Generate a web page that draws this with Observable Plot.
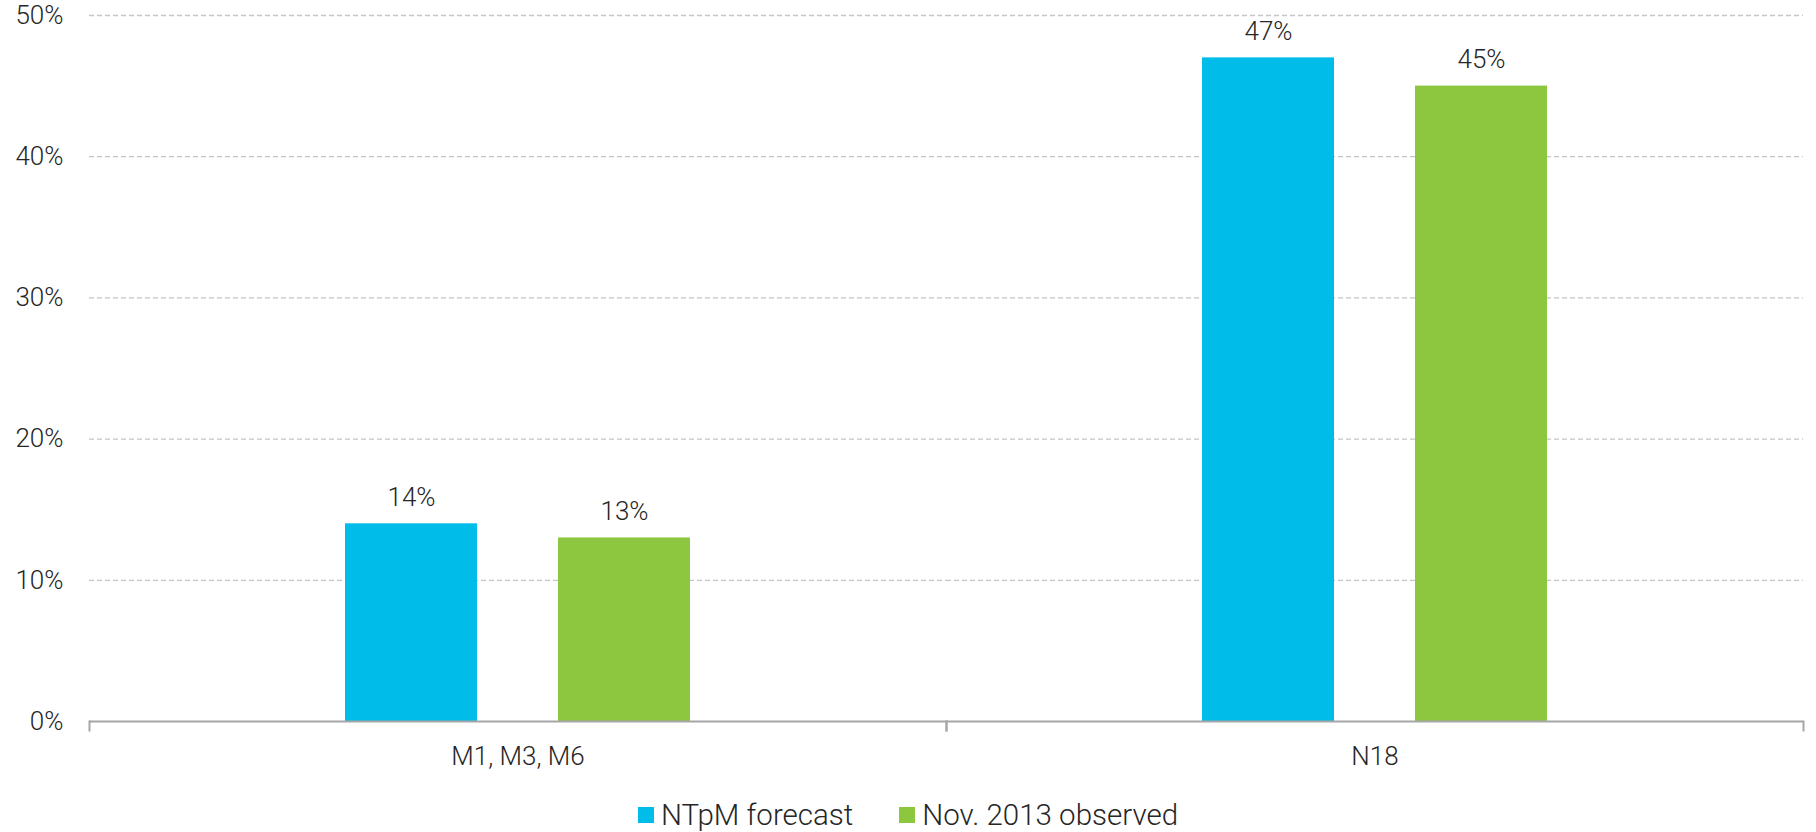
<!DOCTYPE html>
<html>
<head>
<meta charset="utf-8">
<script src="https://cdn.jsdelivr.net/npm/d3@7"></script>
<script src="https://cdn.jsdelivr.net/npm/@observablehq/plot@0.6"></script>
<style>
  html, body { margin: 0; padding: 0; background: #fff; }
  body { width: 1816px; height: 832px; overflow: hidden; font-family: Roboto, "Noto Sans", sans-serif; }
  #legend { display: flex; justify-content: center; align-items: center; height: 34px; padding-top: 10px; font-size: 29.5px; font-weight: 300; color: #262626; }
  .item { display: flex; align-items: center; margin: 0 23px; }
  .sw { width: 16px; height: 16px; margin-right: 7px; }
  svg text { font-weight: 300; }
</style>
</head>
<body>
<div id="chart"></div>
<div id="legend"></div>
<script>
const categories = ["M1, M3, M6", "N18"];
const seriesNames = ["NTpM forecast", "Nov. 2013 observed"];
const forecastValues = [14, 47];
const observedValues = [13, 45];
const colors = ["#00BCE8", "#8DC63F"];
const yTicks = [0, 10, 20, 30, 40, 50];
const gridTicks = [10, 20, 30, 40, 50];

const rows = [];
categories.forEach((c, i) => {
  rows.push({category: c, series: seriesNames[0], value: forecastValues[i]});
  rows.push({category: c, series: seriesNames[1], value: observedValues[i]});
});

const axisColor = "#a6a6a6";
const chart = Plot.plot({
  width: 1816,
  height: 788,
  marginTop: 15,
  marginLeft: 89,
  marginRight: 13,
  marginBottom: 67,
  style: {fontSize: "26px", fontFamily: "Roboto, 'Noto Sans', sans-serif", color: "#262626", background: "#fff"},
  fx: {domain: categories, padding: 0, label: null, axis: "bottom", tickSize: 0, tickPadding: 25},
  x: {domain: seriesNames, paddingInner: 0.38, paddingOuter: 1.2, axis: null},
  y: {domain: [0, 50], ticks: yTicks, tickFormat: d => d + "%", tickSize: 0, tickPadding: 26, label: null},
  color: {domain: seriesNames, range: colors},
  marks: [
    Plot.ruleY(gridTicks, {y: d => d, stroke: "#c6c6c6", strokeWidth: 1.3, strokeDasharray: "5,3"}),
    Plot.barY(rows, {fx: "category", x: "series", y: "value", fill: "series"}),
    Plot.text(rows, {fx: "category", x: "series", y: "value", text: d => d.value + "%", lineAnchor: "bottom", dy: -18, fill: "#262626", fontSize: 26}),
    Plot.ruleY([0], {stroke: axisColor, strokeWidth: 2}),
    Plot.frame({anchor: "left", stroke: axisColor, strokeWidth: 2, insetTop: 706, insetBottom: -9}),
    Plot.frame({anchor: "right", stroke: axisColor, strokeWidth: 2, insetTop: 706, insetBottom: -9})
  ]
});
document.getElementById("chart").appendChild(chart);

const legend = document.getElementById("legend");
seriesNames.forEach((s, i) => {
  const item = document.createElement("div");
  item.className = "item";
  const sw = document.createElement("div");
  sw.className = "sw";
  sw.style.background = colors[i];
  const t = document.createElement("span");
  t.textContent = s;
  item.appendChild(sw);
  item.appendChild(t);
  legend.appendChild(item);
});
</script>
</body>
</html>
